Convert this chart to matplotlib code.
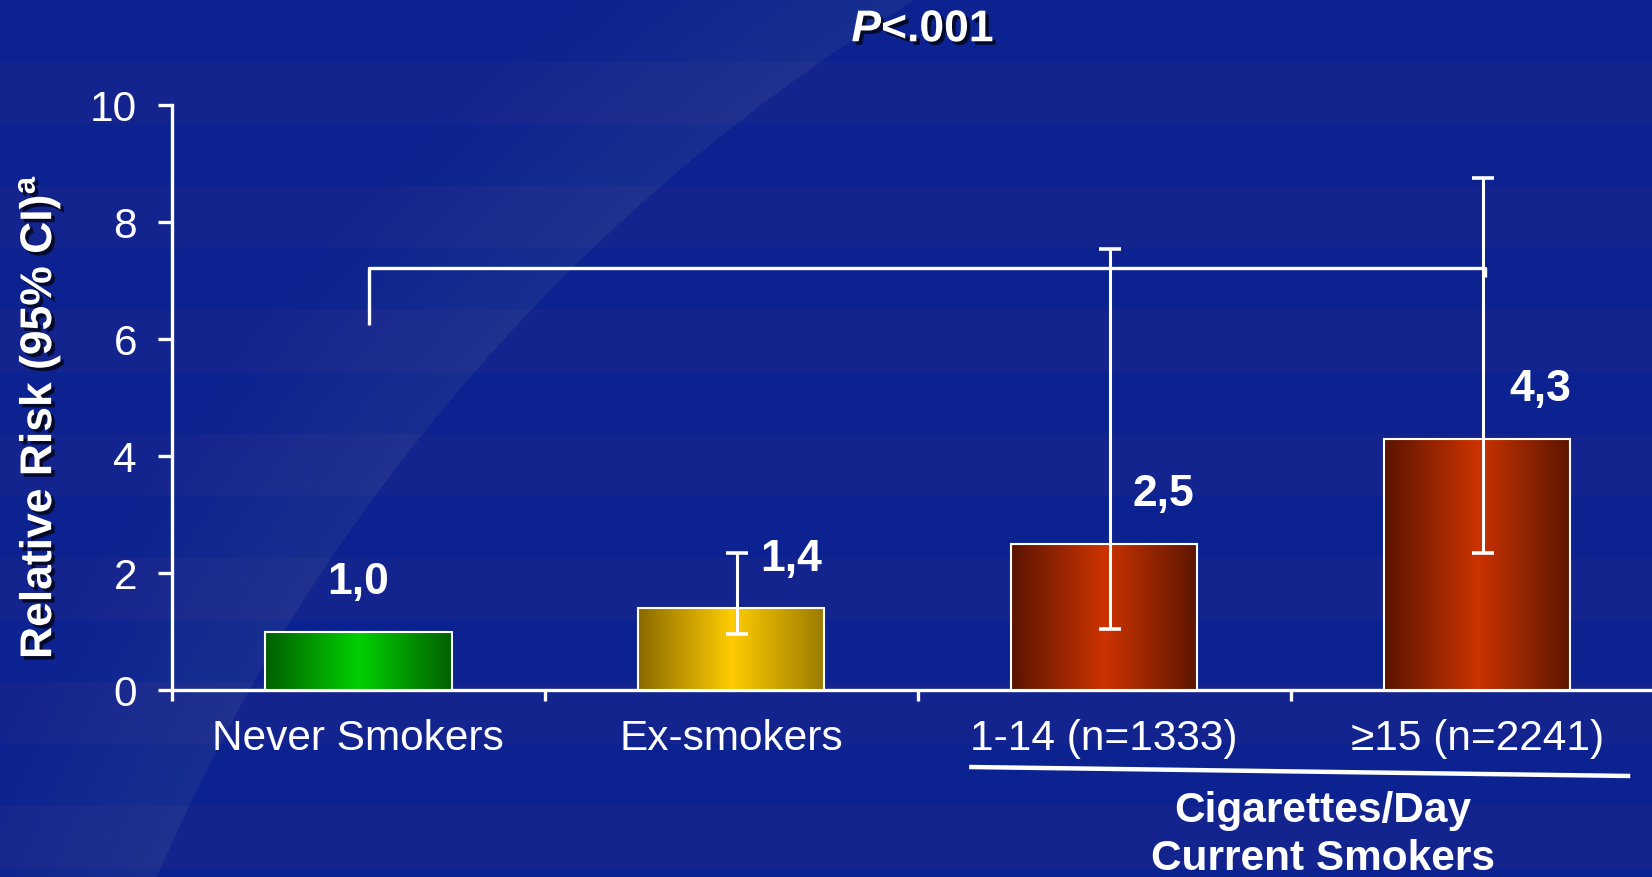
import matplotlib
matplotlib.use("Agg")
import matplotlib.pyplot as plt
import matplotlib.patheffects as pe
from matplotlib.colors import LinearSegmentedColormap
from matplotlib.patches import Rectangle, Wedge
from matplotlib.lines import Line2D
import numpy as np

plt.rcParams['font.family'] = ['Liberation Sans', 'DejaVu Sans']
plt.rcParams['mathtext.fontset'] = 'custom'
plt.rcParams['mathtext.rm'] = 'Liberation Sans'
plt.rcParams['mathtext.bf'] = 'Liberation Sans:bold'
plt.rcParams['mathtext.it'] = 'Liberation Sans:bold:italic'

# data
categories = ['Never Smokers', 'Ex-smokers', '1-14 (n=1333)', '\u226515 (n=2241)']
rr = np.array([1.0, 1.4, 2.5, 4.3])
ci_low = np.array([np.nan, 0.95, 1.05, 2.35])
ci_high = np.array([np.nan, 2.35, 7.55, 8.75])
bar_colors = [('#005e00', '#00d000', '#006000'),
              ('#8a6a00', '#ffcc00', '#9a7a00'),
              ('#5a1400', '#cc3300', '#5c1600'),
              ('#5a1400', '#cc3300', '#5c1600')]
p_text = '$P$<.001'

fig = plt.figure(figsize=(16.52, 8.77), dpi=100)
fig.patch.set_facecolor('#0c2490')

# background: stripes + faint light arc
bg = fig.add_axes([0, 0, 1, 1], zorder=-10)
bg.set_xlim(0, 1652)
bg.set_ylim(877, 0)
bg.axis('off')
for i, y in enumerate(range(0, 877, 62)):
    bg.add_patch(Rectangle((0, y), 1652, 62, color=['#0b2290', '#14248e'][i % 2], lw=0))
for k in range(12):
    bg.add_patch(Wedge((1917, 1632), 1915 + 16 * (k + 1), 0, 360, width=16 * (k + 1),
                       color='white', alpha=0.007, lw=0))

ax = fig.add_axes([0.104, 0.2132, 0.896, 0.6666])
ax.set_facecolor('none')
x = np.arange(len(categories))

bars = ax.bar(x, rr, width=0.5, facecolor='none', edgecolor='white', linewidth=1.5, zorder=4)
grad = np.linspace(0, 1, 256)[None, :]
for b, cols in zip(bars, bar_colors):
    cmap = LinearSegmentedColormap.from_list('g', list(cols))
    x0, y0 = b.get_x(), b.get_y()
    im = ax.imshow(grad, cmap=cmap, aspect='auto', zorder=3,
                   extent=[x0, x0 + b.get_width(), y0, y0 + b.get_height()])
    im.set_clip_path(b)

m = ~np.isnan(ci_low)
ax.errorbar(x[m] + 0.015, rr[m], yerr=[rr[m] - ci_low[m], ci_high[m] - rr[m]], fmt='none',
            ecolor='white', elinewidth=2.2, capsize=8, capthick=2.6, zorder=5)

label_dx = [0.0, 0.16, 0.16, 0.17]
for xi, v, dx in zip(x, rr, label_dx):
    ax.text(xi + dx, v + 0.84, f'{v:.1f}'.replace('.', ','), color='white', fontsize=32,
            fontweight='bold', ha='center', va='center', zorder=6)

# significance bracket
ax.plot([0.03, 0.03, 3.02, 3.02], [6.25, 7.22, 7.22, 7.07], color='white', lw=2.4,
        solid_capstyle='butt', zorder=5, clip_on=False)

ax.set_yticks(range(0, 11, 2))
ax.set_xticks(x, categories)
ax.set_xticks([-0.5, 0.5, 1.5, 2.5], minor=True)
ax.set_xlim(-0.5, 3.469)
ax.set_ylim(0, 10)
for s in ['top', 'right']:
    ax.spines[s].set_visible(False)
for s in ['left', 'bottom']:
    ax.spines[s].set_color('white')
    ax.spines[s].set_linewidth(2.4)
ax.tick_params(axis='y', colors='white', labelsize=30.5, length=10, width=2.4, pad=15)
ax.tick_params(axis='x', which='major', colors='white', labelsize=30.5, length=0, pad=21)
ax.tick_params(axis='x', which='minor', colors='white', length=8, width=2.4)

shadow = [pe.withSimplePatchShadow(offset=(2.5, -2.5), shadow_rgbFace='black', alpha=0.7)]
fig.text(0.0236, 0.525, 'Relative Risk (95% CI)$^{\\mathbf{a}}$', rotation=90, color='white',
         fontsize=32, fontweight='bold', ha='center', va='center', path_effects=shadow)
fig.text(0.5587, 0.966, p_text, color='white', fontsize=32, fontweight='bold',
         ha='center', va='center', path_effects=shadow)

fig.add_artist(Line2D([0.588, 0.9855], [0.1254, 0.1152], color='white', lw=3.2,
                      transform=fig.transFigure))
fig.text(0.801, 0.075, 'Cigarettes/Day', color='white', fontsize=30.5, fontweight='bold',
         ha='center', va='center')
fig.text(0.801, 0.0208, 'Current Smokers', color='white', fontsize=30.5, fontweight='bold',
         ha='center', va='center')

fig.savefig('out.png', dpi=100, facecolor=fig.get_facecolor())
